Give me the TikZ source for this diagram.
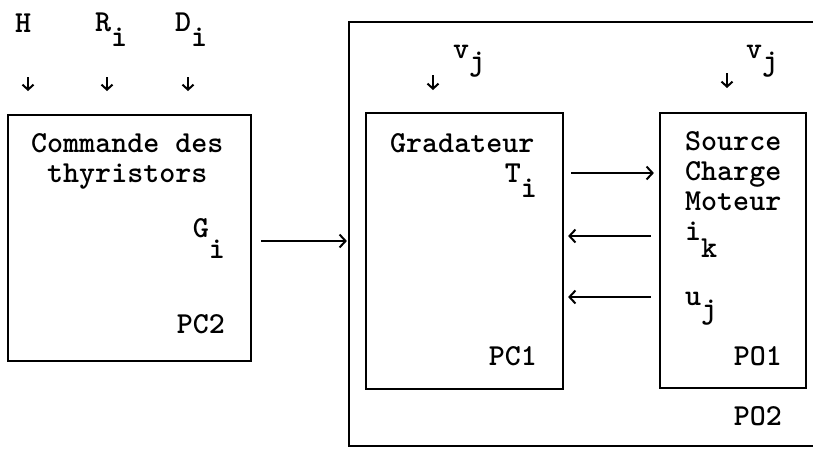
\documentclass[tikz,border=0pt]{standalone}
\usepackage{fontspec}
\usetikzlibrary{arrows.meta}
\newcommand\twfont{\ttfamily\bfseries\fontsize{30.5}{33}\selectfont}
\tikzset{
  box/.style={draw, line width=2.2pt, inner sep=0pt},
  lbl/.style={inner sep=0pt, font=\twfont},
  arr/.style={line width=2pt, -{Straight Barb[length=6pt,width=13pt,line width=2pt]}},
  sarr/.style={line width=2pt, -{Straight Barb[length=5pt,width=11pt,line width=2pt]}}
}
\begin{document}
\begin{tikzpicture}[x=1pt,y=-1pt]
\clip (0,0) rectangle (813,451);
% boxes
\node[box, minimum width=243pt, minimum height=246pt] (PC2) at (129.5,238) {};
\node[box, minimum width=481pt, minimum height=424pt] (outer) at (589.5,234) {};
\node[box, minimum width=197pt, minimum height=276pt] (PC1) at (464.5,251) {};
\node[box, minimum width=146pt, minimum height=275pt] (PO1) at (733,250.5) {};
% top inputs
\node[lbl, anchor=base west] (H) at (15,32) {H};
\node[lbl, anchor=base west] (R) at (95,31) {R\raisebox{-15pt}{i}};
\node[lbl, anchor=base west] (D) at (175,31) {D\raisebox{-15pt}{i}};
\node[lbl, anchor=base west] (v1) at (453,58) {v\raisebox{-12pt}{j}};
\node[lbl, anchor=base west] (v2) at (746,58) {v\raisebox{-12pt}{j}};
\coordinate (aH1) at (28,77);  \coordinate (aH2) at (28,91);
\coordinate (aR1) at (107,77); \coordinate (aR2) at (107,91);
\coordinate (aD1) at (188,77); \coordinate (aD2) at (188,91);
\coordinate (av1) at (433,75); \coordinate (av2) at (433,90);
\coordinate (aw1) at (727,73); \coordinate (aw2) at (727,88);
\draw[sarr] (aH1) -- (aH2);
\draw[sarr] (aR1) -- (aR2);
\draw[sarr] (aD1) -- (aD2);
\draw[sarr] (av1) -- (av2);
\draw[sarr] (aw1) -- (aw2);
% PC2 texts
\node[lbl, anchor=base west] (t1) at (31,152) {Commande des};
\node[lbl, anchor=base west] (t2) at (47,182) {thyristors};
\node[lbl, anchor=base east] (Gi) at (225,237) {G\raisebox{-21pt}{i}};
\node[lbl, anchor=base east] (pc2) at (225,333) {PC2};
% PC1 texts
\node[lbl, anchor=base west] (grad) at (390,152) {Gradateur};
\node[lbl, anchor=base east] (Ti) at (537,182) {T\raisebox{-15pt}{i}};
\node[lbl, anchor=base east] (pc1) at (537,365) {PC1};
% PO1 texts
\node[lbl, anchor=base west] (s1) at (685,150) {Source};
\node[lbl, anchor=base west] (s2) at (685,180) {Charge};
\node[lbl, anchor=base west] (s3) at (685,210) {Moteur};
\node[lbl, anchor=base west] (ik) at (685,240) {i\raisebox{-17pt}{k}};
\node[lbl, anchor=base west] (uj) at (685,305) {u\raisebox{-13pt}{j}};
\node[lbl, anchor=base east] (po1) at (782,365) {PO1};
\node[lbl, anchor=base east] (po2) at (782,425) {PO2};
% connectors
\coordinate (yG) at (0,241);
\coordinate (yT) at (0,173);
\coordinate (yI) at (0,236);
\coordinate (yU) at (0,297);
\draw[arr] ([xshift=9pt]PC2.east |- yG) -- ([xshift=-1pt]outer.west |- yG);
\draw[arr] ([xshift=7pt]PC1.east |- yT) -- ([xshift=-5pt]PO1.west |- yT);
\draw[arr] ([xshift=-8pt]PO1.west |- yI) -- ([xshift=4pt]PC1.east |- yI);
\draw[arr] ([xshift=-8pt]PO1.west |- yU) -- ([xshift=4pt]PC1.east |- yU);
\end{tikzpicture}
\end{document}
